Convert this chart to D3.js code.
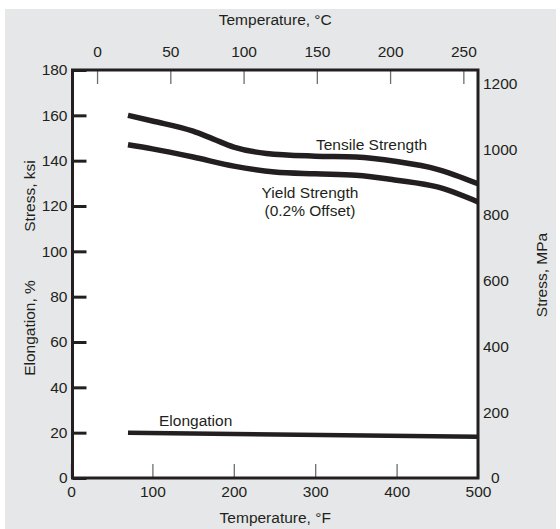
<!DOCTYPE html>
<html>
<head>
<meta charset="utf-8">
<script src="https://cdn.jsdelivr.net/npm/d3@7"></script>
<style>
  html, body { margin: 0; padding: 0; background: #fff; }
  svg text { font-family: "Liberation Sans", Arial, Helvetica, sans-serif; fill: #231f20; }
</style>
</head>
<body>
<svg id="chart" width="560" height="529"></svg>
<script>
// ---- Data (Temperature in °F, stress in ksi, elongation in %) ----
const tensileF   = [70, 100, 150, 175, 200, 240, 300, 350, 400, 450, 500];
const tensileKsi = [160, 157.5, 153, 149.5, 146, 143.2, 142, 141.6, 139.6, 136.2, 129.8];
const yieldF     = [70, 100, 150, 200, 250, 300, 350, 400, 450, 500];
const yieldKsi   = [147, 145.2, 141.6, 137.6, 135, 134.2, 133.6, 131.4, 128.4, 121.8];
const elongF     = [70, 500];
const elongPct   = [20, 18.2];

const fTicks   = [0, 100, 200, 300, 400, 500];
const cTicks   = [0, 50, 100, 150, 200, 250];
const ksiTicks = [0, 20, 40, 60, 80, 100, 120, 140, 160, 180];
const mpaTicks = [0, 200, 400, 600, 800, 1000, 1200];

const svg = d3.select("#chart");
const FS = 15.5;
const ink = "#231f20";

// background panel
svg.append("rect").attr("x", 5).attr("y", 9).attr("width", 551).attr("height", 520).attr("fill", "#e6e7e8");

const L = 72.5, R = 478, T = 70, B = 478;
const x  = d3.scaleLinear().domain([0, 500]).range([71, 478]);
const xc = d3.scaleLinear().domain([(0 - 32) / 1.8, (500 - 32) / 1.8]).range([71, 478]);
const y  = d3.scaleLinear().domain([0, 180]).range([B, T]);
const yM = d3.scaleLinear().domain([0, 180 * 6.894757]).range([B, T]);

// plot area
svg.append("rect").attr("x", L).attr("y", T).attr("width", R - L).attr("height", B - T).attr("fill", "#fff");

function styleAxis(g, w, col) {
  g.select(".domain").remove();
  g.selectAll(".tick line").attr("stroke", col).attr("stroke-width", w);
  g.selectAll(".tick text").attr("font-size", FS).attr("fill", ink)
    .style("font-family", "'Liberation Sans', Arial, Helvetica, sans-serif");
}

// left axis (ksi / %)
const gl = svg.append("g").attr("transform", `translate(${L},0)`)
  .call(d3.axisLeft(y).tickValues(ksiTicks).tickSizeInner(-14).tickSizeOuter(0).tickPadding(5).tickFormat(d3.format("d")));
styleAxis(gl, 3, ink);

// bottom axis (°F)
const gb = svg.append("g").attr("transform", `translate(0,${B})`)
  .call(d3.axisBottom(x).tickValues(fTicks).tickSizeInner(-14).tickSizeOuter(0).tickPadding(8).tickFormat(d3.format("d")));
styleAxis(gb, 1.3, "#6d6e71");

// top axis (°C)
const gt = svg.append("g").attr("transform", `translate(0,${T})`)
  .call(d3.axisTop(xc).tickValues(cTicks).tickSizeInner(-14).tickSizeOuter(0).tickPadding(13).tickFormat(d3.format("d")));
styleAxis(gt, 1.3, "#6d6e71");

// right axis (MPa)
const gr = svg.append("g").attr("transform", `translate(${R},0)`)
  .call(d3.axisRight(yM).tickValues(mpaTicks).tickSize(0).tickPadding(5).tickFormat(d3.format("d")));
styleAxis(gr, 0, ink);
gr.selectAll(".tick").filter(d => d === 0).select("text").attr("x", 13);

// frame
svg.append("rect").attr("x", L).attr("y", T).attr("width", R - L).attr("height", B - T)
  .attr("fill", "none").attr("stroke", ink).attr("stroke-width", 3);

// curves
const line = d3.line().x(d => x(d[0])).y(d => y(d[1])).curve(d3.curveMonotoneX);
const series = [
  { f: tensileF, v: tensileKsi, w: 5.5 },
  { f: yieldF,   v: yieldKsi,   w: 5.5 },
  { f: elongF,   v: elongPct,   w: 4.5 }
];
series.forEach(s => {
  svg.append("path").datum(s.f.map((f, i) => [f, s.v[i]]))
    .attr("d", line).attr("fill", "none").attr("stroke", ink)
    .attr("stroke-width", s.w).attr("stroke-linecap", "butt");
});

// curve labels
function label(t, xx, yy, anchor) {
  svg.append("text").attr("x", xx).attr("y", yy).attr("font-size", FS)
    .attr("text-anchor", anchor || "start").text(t);
}
label("Tensile Strength", 316, 149.5);
label("Yield Strength", 310, 198, "middle");
label("(0.2% Offset)", 310, 216, "middle");
label("Elongation", 159, 426);

// axis titles
label("Temperature, °C", (L + R) / 2, 25, "middle");
label("Temperature, °F", (L + R) / 2, 522.5, "middle");
svg.append("text").attr("transform", "translate(35,196) rotate(-90)").attr("text-anchor", "middle")
  .attr("font-size", FS).text("Stress, ksi");
svg.append("text").attr("transform", "translate(35,328) rotate(-90)").attr("text-anchor", "middle")
  .attr("font-size", FS).text("Elongation, %");
svg.append("text").attr("transform", "translate(547,275) rotate(-90)").attr("text-anchor", "middle")
  .attr("font-size", FS).text("Stress, MPa");
</script>
</body>
</html>
